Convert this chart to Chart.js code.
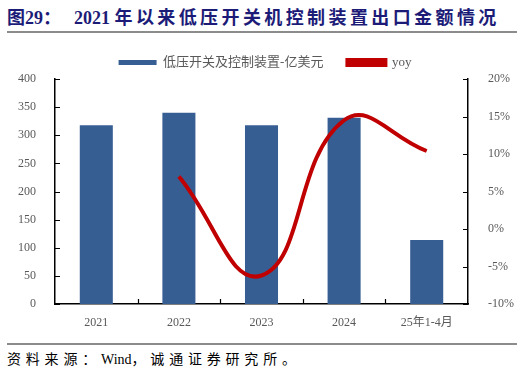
<!DOCTYPE html>
<html>
<head>
<meta charset="utf-8">
<script src="https://cdn.jsdelivr.net/npm/chart.js@4"></script>
<style>
  html, body { margin: 0; padding: 0; background: #fff; }
  #wrap { position: relative; width: 530px; height: 374px; overflow: hidden; }
  #title {
    position: absolute; left: 7px; top: 3px;
    font: bold 18px "Liberation Serif", "Noto Sans CJK SC", serif;
    color: #1c1c78; white-space: nowrap;
  }
  #title .cn { letter-spacing: 3.4px; }
  #title .yr { margin-left: 13px; }
  #line1 { position: absolute; left: 7px; top: 31px; width: 510px; height: 2px; background: #8c8c8c; }
  #line2 { position: absolute; left: 7px; top: 343px; width: 510px; height: 2px; background: #8c8c8c; }
  #source {
    position: absolute; left: 7px; top: 348px;
    font: 14px "Liberation Serif", "Noto Sans CJK SC", serif;
    color: #000; white-space: nowrap;
  }
  #source .cn { letter-spacing: 4.8px; }
  #chart { position: absolute; left: 0; top: 29px; }
</style>
</head>
<body>
<div id="wrap">
  <div id="title">图29：<span class="yr">2021 </span><span class="cn">年以来低压开关机控制装置出口金额情况</span></div>
  <div id="line1"></div>
  <canvas id="chart" width="530" height="313"></canvas>
  <div id="line2"></div>
  <div id="source"><span class="cn">资料来源：</span>Wind<span class="cn">，诚通证券研究所。</span></div>
</div>
<script>
// 数据
const categories = ['2021', '2022', '2023', '2024', '25年1-4月'];
const amountValues = [318, 340, 318, 331, 114];      // 亿美元
const yoyValues = [null, 7.0, -6.2, 14.5, 10.4];      // %
const leftTicks = [0, 50, 100, 150, 200, 250, 300, 350, 400];
const rightTicks = [-10, -5, 0, 5, 10, 15, 20];

const tickFont = { family: '"Liberation Serif", "Noto Sans CJK SC", serif', size: 12 };
const gray = '#595959';

// 刻度线画在坐标轴内侧
const innerTicks = {
  id: 'innerTicks',
  afterDraw(chart) {
    const ctx = chart.ctx;
    const area = chart.chartArea;
    const x = chart.scales.x, y = chart.scales.y, y1 = chart.scales.y1;
    ctx.save();
    ctx.strokeStyle = '#000';
    ctx.lineWidth = 1.2;
    ctx.beginPath();
    leftTicks.forEach(v => {
      const py = Math.round(y.getPixelForValue(v)) + 0.5;
      ctx.moveTo(area.left, py); ctx.lineTo(area.left + 5, py);
    });
    rightTicks.forEach(v => {
      const py = Math.round(y1.getPixelForValue(v)) + 0.5;
      ctx.moveTo(area.right, py); ctx.lineTo(area.right - 5, py);
    });
    for (let i = 1; i < categories.length; i++) {
      const px = Math.round((x.getPixelForValue(i - 1) + x.getPixelForValue(i)) / 2) + 0.5;
      ctx.moveTo(px, area.bottom); ctx.lineTo(px, area.bottom - 5);
    }
    ctx.stroke();
    ctx.restore();
  }
};

new Chart(document.getElementById('chart'), {
  data: {
    labels: categories,
    datasets: [
      {
        type: 'line',
        label: 'yoy',
        data: yoyValues,
        yAxisID: 'y1',
        borderColor: '#c00000',
        backgroundColor: '#c00000',
        borderWidth: 4,
        pointRadius: 0,
        tension: 0.45,
        order: 0
      },
      {
        type: 'bar',
        label: '低压开关及控制装置-亿美元',
        data: amountValues,
        yAxisID: 'y',
        backgroundColor: '#375e93',
        barPercentage: 0.4,
        categoryPercentage: 1,
        order: 1
      }
    ]
  },
  options: {
    responsive: false,
    animation: false,
    layout: { padding: { top: 3, bottom: 0, left: 0, right: 0 } },
    plugins: {
      legend: {
        reverse: true,
        labels: {
          boxWidth: 38,
          boxHeight: 5,
          padding: 24,
          color: gray,
          font: { family: '"Liberation Serif", "Noto Sans CJK SC", serif', size: 13 }
        }
      },
      tooltip: { enabled: false }
    },
    scales: {
      x: {
        grid: { display: false },
        border: { color: '#000', width: 1.5 },
        ticks: { color: gray, font: tickFont, padding: 4 },
        afterFit(scale) { scale.height = 38; }
      },
      y: {
        position: 'left',
        min: 0, max: 400,
        afterBuildTicks(scale) { scale.ticks = leftTicks.map(v => ({ value: v })); },
        grid: { display: false },
        border: { color: '#000', width: 1.5 },
        ticks: { color: gray, font: tickFont, padding: 11 },
        afterFit(scale) { scale.width = 55; }
      },
      y1: {
        position: 'right',
        min: -10, max: 20,
        afterBuildTicks(scale) { scale.ticks = rightTicks.map(v => ({ value: v })); },
        grid: { display: false },
        border: { color: '#000', width: 1.5 },
        ticks: { color: gray, font: tickFont, padding: 12, callback: v => v + '%' },
        afterFit(scale) { scale.width = 62; }
      }
    }
  },
  plugins: [innerTicks]
});
</script>
</body>
</html>
